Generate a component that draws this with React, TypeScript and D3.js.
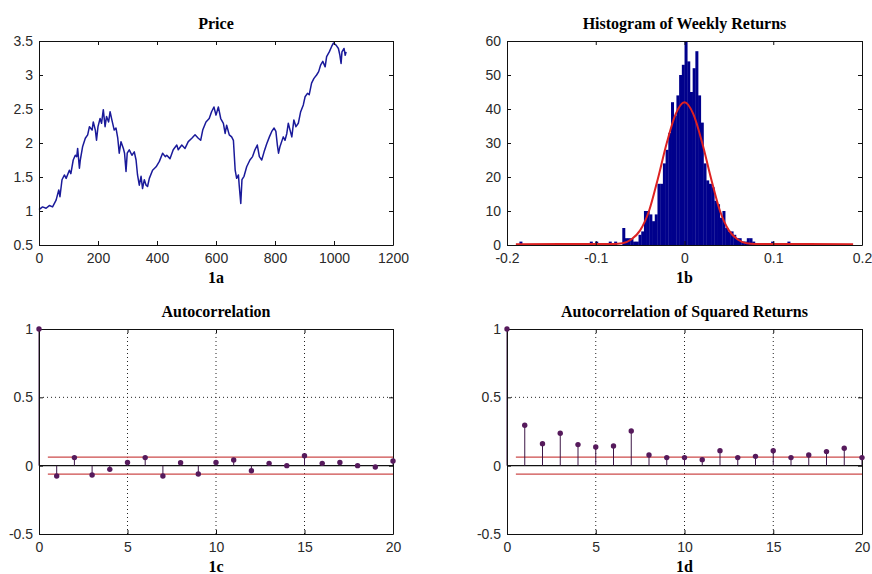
import { useRef, useEffect } from 'react';
import * as d3 from 'd3';

// weekly price (week index, price)
const priceWeek = [0, 12, 24, 35, 46, 58, 67, 71, 78, 86, 92, 103, 108, 116, 123, 128, 131, 137, 140, 148, 157, 165, 171, 180, 184, 191, 195, 200, 207, 212, 218, 224, 229, 236, 241, 247, 255, 261, 267, 272, 278, 286, 290, 295, 299, 306, 315, 323, 329, 334, 340, 346, 351, 357, 363, 368, 374, 385, 397, 408, 419, 428, 433, 444, 455, 467, 472, 484, 495, 506, 518, 529, 540, 548, 555, 566, 577, 585, 593, 600, 608, 616, 625, 631, 636, 645, 653, 659, 665, 670, 676, 679, 684, 688, 695, 704, 715, 724, 732, 740, 747, 755, 763, 772, 781, 789, 797, 803, 808, 812, 817, 828, 834, 840, 845, 851, 857, 864, 871, 879, 887, 896, 902, 910, 916, 924, 932, 941, 948, 955, 962, 970, 975, 984, 992, 998, 1007, 1015, 1020, 1024, 1027, 1034, 1038, 1041];
const priceValue = [1.02, 1.06, 1.04, 1.08, 1.06, 1.16, 1.31, 1.21, 1.46, 1.53, 1.48, 1.6, 1.55, 1.75, 1.82, 1.8, 1.92, 1.63, 1.75, 1.95, 2.07, 2.12, 2.24, 2.19, 2.31, 2.19, 2.04, 2.24, 2.36, 2.29, 2.49, 2.24, 2.39, 2.31, 2.46, 2.34, 2.19, 2.22, 2.07, 1.85, 2.02, 1.92, 1.85, 1.58, 1.85, 1.9, 1.82, 1.87, 1.75, 1.53, 1.38, 1.51, 1.33, 1.46, 1.38, 1.36, 1.48, 1.6, 1.65, 1.73, 1.85, 1.8, 1.82, 1.77, 1.9, 1.97, 1.9, 1.97, 1.92, 2.02, 2.07, 2.12, 2.07, 2.04, 2.19, 2.31, 2.36, 2.46, 2.53, 2.41, 2.53, 2.36, 2.29, 2.14, 2.26, 2.12, 2.09, 2.04, 1.6, 1.48, 1.53, 1.36, 1.11, 1.46, 1.51, 1.65, 1.75, 1.8, 1.9, 1.97, 1.8, 1.75, 1.87, 1.99, 2.09, 2.17, 2.22, 2.17, 1.97, 1.85, 1.95, 2.09, 2.04, 2.14, 2.29, 2.19, 2.09, 2.34, 2.24, 2.29, 2.46, 2.56, 2.68, 2.73, 2.71, 2.88, 2.95, 3.0, 3.05, 3.15, 3.2, 3.12, 3.27, 3.34, 3.42, 3.47, 3.44, 3.39, 3.29, 3.17, 3.34, 3.39, 3.29, 3.34];
const priceXTicks = [0, 200, 400, 600, 800, 1000, 1200];
const priceYTicks = [0.5, 1, 1.5, 2, 2.5, 3, 3.5];

// histogram of weekly returns
const histStart = -0.186;
const histBinWidth = 0.00305;
const histCounts = [
  1, 0, 0, 0, 0, 0, 0, 0, 0, 0,
  0, 0, 0, 0, 0, 0, 0, 0, 0, 0,
  0, 0, 0, 0, 0, 0, 1, 0, 1, 0,
  0, 0, 0, 1, 0, 1, 0, 0, 5, 2,
  2, 2, 1, 1, 3, 4, 10, 10, 9, 7,
  9, 18, 18, 24, 28, 33, 42, 38, 44, 50,
  53, 60, 54, 45, 52, 57, 44, 36, 24, 19,
  18, 17, 13, 12, 8, 10, 5, 4, 4, 3,
  2, 2, 1, 1, 2, 2, 1, 0, 0, 0,
  0, 0, 0, 1, 0, 0, 0, 0, 0, 1,
];
const normalX = [-0.19, -0.08, -0.07, -0.06, -0.05, -0.04, -0.03, -0.02, -0.01, 0, 0.01, 0.02, 0.03, 0.04, 0.05, 0.06, 0.07, 0.08, 0.19];
const normalY = [0.25, 0.3, 0.5, 1.6, 4.3, 10, 19.5, 30, 38.5, 42, 38.5, 30, 19.5, 10, 4.3, 1.6, 0.5, 0.3, 0.25];
const histXTicks = [-0.2, -0.1, 0, 0.1, 0.2];
const histYTicks = [0, 10, 20, 30, 40, 50, 60];

// sample autocorrelations
const lags = [0, 1, 2, 3, 4, 5, 6, 7, 8, 9, 10, 11, 12, 13, 14, 15, 16, 17, 18, 19, 20];
const acfReturns = [1, -0.076, 0.059, -0.068, -0.027, 0.024, 0.059, -0.076, 0.022, -0.061, 0.024, 0.042, -0.037, 0.017, 0, 0.073, 0.017, 0.024, 0, -0.01, 0.034];
const acfSquared = [1, 0.296, 0.161, 0.237, 0.154, 0.137, 0.144, 0.254, 0.078, 0.059, 0.059, 0.044, 0.11, 0.059, 0.068, 0.11, 0.059, 0.078, 0.103, 0.127, 0.059];
const acfBound = 0.062;
const boundLags = [0.5, 20];
const acfXTicks = [0, 5, 10, 15, 20];
const acfYTicks = [-0.5, 0, 0.5, 1];

const TICK_FONT = '"Liberation Sans", Arial, sans-serif';
const TITLE_FONT = '"Liberation Serif", "Times New Roman", serif';

function frame(g, x, y, xTicks, yTicks, title, label) {
  const [x0, x1] = x.range();
  const [y1, y0] = y.range();
  const fmt = d => String(d);

  const axes = [
    g.append('g').attr('transform', `translate(0,${y1})`)
      .call(d3.axisBottom(x).tickValues(xTicks).tickSizeInner(-4).tickSizeOuter(0).tickPadding(8).tickFormat(fmt)),
    g.append('g').attr('transform', `translate(0,${y0})`)
      .call(d3.axisTop(x).tickValues(xTicks).tickSizeInner(-4).tickSizeOuter(0).tickFormat(() => '')),
    g.append('g').attr('transform', `translate(${x0},0)`)
      .call(d3.axisLeft(y).tickValues(yTicks).tickSizeInner(-4).tickSizeOuter(0).tickPadding(6).tickFormat(fmt)),
    g.append('g').attr('transform', `translate(${x1},0)`)
      .call(d3.axisRight(y).tickValues(yTicks).tickSizeInner(-4).tickSizeOuter(0).tickFormat(() => '')),
  ];
  axes.forEach(a => {
    a.select('.domain').attr('stroke', '#111');
    a.selectAll('.tick line').attr('stroke', '#111');
    a.selectAll('text')
      .attr('font-family', TICK_FONT)
      .attr('font-size', 14)
      .attr('fill', '#2a2a2a');
  });

  g.append('text')
    .attr('x', (x0 + x1) / 2)
    .attr('y', y0 - 12)
    .attr('text-anchor', 'middle')
    .attr('font-family', TITLE_FONT)
    .attr('font-weight', 'bold')
    .attr('font-size', 16)
    .text(title);

  g.append('text')
    .attr('x', (x0 + x1) / 2)
    .attr('y', y1 + 38)
    .attr('text-anchor', 'middle')
    .attr('font-family', TITLE_FONT)
    .attr('font-weight', 'bold')
    .attr('font-size', 16)
    .text(label);
}

function acfPanel(g, box, values, title, label) {
  const x = d3.scaleLinear().domain([0, 20]).range([box.x0, box.x1]);
  const y = d3.scaleLinear().domain([-0.5, 1]).range([box.y1, box.y0]);

  // dotted grid
  g.selectAll('.vgrid').data(acfXTicks.slice(1, -1)).enter().append('line')
    .attr('x1', d => x(d)).attr('x2', d => x(d))
    .attr('y1', box.y0).attr('y2', box.y1)
    .attr('stroke', '#222').attr('stroke-dasharray', '1,3');
  g.selectAll('.hgrid').data([0.5]).enter().append('line')
    .attr('x1', box.x0).attr('x2', box.x1)
    .attr('y1', d => y(d)).attr('y2', d => y(d))
    .attr('stroke', '#222').attr('stroke-dasharray', '1,3');

  // confidence bounds
  [acfBound, -acfBound].forEach(b => {
    g.append('line')
      .attr('x1', x(boundLags[0])).attr('x2', x(boundLags[1]))
      .attr('y1', y(b)).attr('y2', y(b))
      .attr('stroke', '#cc4a4a').attr('stroke-width', 1.2);
  });

  // baseline
  g.append('line')
    .attr('x1', box.x0).attr('x2', box.x1)
    .attr('y1', y(0)).attr('y2', y(0))
    .attr('stroke', '#111').attr('stroke-width', 1.2);

  const pts = lags.map((l, i) => ({ lag: l, v: values[i] }));
  g.selectAll('.stem').data(pts).enter().append('line')
    .attr('x1', d => x(d.lag)).attr('x2', d => x(d.lag))
    .attr('y1', y(0)).attr('y2', d => y(d.v))
    .attr('stroke', '#3c1746').attr('stroke-width', 1);

  frame(g, x, y, acfXTicks, acfYTicks, title, label);

  g.selectAll('.dot').data(pts).enter().append('circle')
    .attr('cx', d => x(d.lag)).attr('cy', d => y(d.v))
    .attr('r', 2.7)
    .attr('fill', '#561a5c');
}

export default function App() {
  const svgRef = useRef(null);

  useEffect(() => {
    const svg = d3.select(svgRef.current);
    svg.selectAll('*').remove();

    const boxA = { x0: 39, x1: 393, y0: 41, y1: 245 };
    const boxB = { x0: 507, x1: 862, y0: 41, y1: 245 };
    const boxC = { x0: 39, x1: 393, y0: 329, y1: 534 };
    const boxD = { x0: 507, x1: 862, y0: 329, y1: 534 };

    // 1a price
    const ga = svg.append('g');
    const xa = d3.scaleLinear().domain([0, 1200]).range([boxA.x0, boxA.x1]);
    const ya = d3.scaleLinear().domain([0.5, 3.5]).range([boxA.y1, boxA.y0]);
    const line = d3.line().x(d => xa(d[0])).y(d => ya(d[1]));
    ga.append('path')
      .datum(priceWeek.map((w, i) => [w, priceValue[i]]))
      .attr('d', line)
      .attr('fill', 'none')
      .attr('stroke', '#1a1a9a')
      .attr('stroke-width', 1.5)
      .attr('stroke-linejoin', 'round');
    frame(ga, xa, ya, priceXTicks, priceYTicks, 'Price', '1a');

    // 1b histogram
    const gb = svg.append('g');
    const xb = d3.scaleLinear().domain([-0.2, 0.2]).range([boxB.x0, boxB.x1]);
    const yb = d3.scaleLinear().domain([0, 60]).range([boxB.y1, boxB.y0]);
    const bins = histCounts.map((c, i) => ({ x0: histStart + i * histBinWidth, c }));
    gb.selectAll('rect').data(bins.filter(b => b.c > 0)).enter().append('rect')
      .attr('x', d => xb(d.x0))
      .attr('width', d => xb(d.x0 + histBinWidth) - xb(d.x0) + 0.3)
      .attr('y', d => yb(d.c))
      .attr('height', d => yb(0) - yb(d.c))
      .attr('fill', '#00008c');
    const curve = d3.line().x(d => xb(d[0])).y(d => yb(d[1])).curve(d3.curveMonotoneX);
    gb.append('path')
      .datum(normalX.map((v, i) => [v, normalY[i]]))
      .attr('d', curve)
      .attr('fill', 'none')
      .attr('stroke', '#dd2222')
      .attr('stroke-width', 2);
    frame(gb, xb, yb, histXTicks, histYTicks, 'Histogram of Weekly Returns', '1b');

    // 1c, 1d autocorrelations
    acfPanel(svg.append('g'), boxC, acfReturns, 'Autocorrelation', '1c');
    acfPanel(svg.append('g'), boxD, acfSquared, 'Autocorrelation of Squared Returns', '1d');
  }, []);

  return (
    <svg ref={svgRef} width={872} height={574}
      style={{ position: 'absolute', left: 0, top: 0, background: '#fff' }} />
  );
}
